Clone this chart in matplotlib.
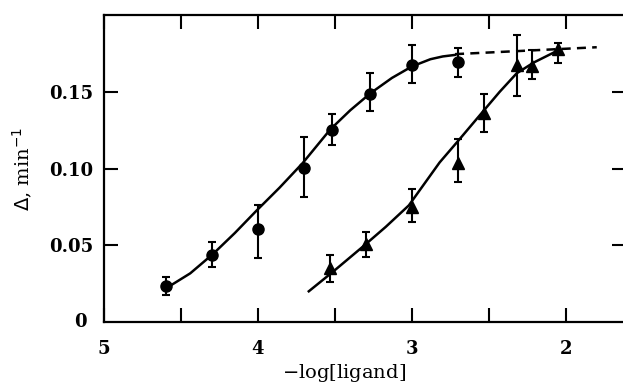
import numpy as np
import matplotlib.pyplot as plt
from matplotlib.ticker import MultipleLocator, FuncFormatter

# measured points (circles)
circ_x = [4.6, 4.3, 4.0, 3.7, 3.52, 3.27, 3.0, 2.7]
circ_y = [0.0235, 0.0437, 0.0606, 0.1004, 0.125, 0.1484, 0.1675, 0.1693]
circ_hi = [0.029, 0.052, 0.076, 0.1206, 0.1356, 0.1625, 0.1806, 0.1784]
circ_lo = [0.0176, 0.036, 0.042, 0.0815, 0.115, 0.1375, 0.1556, 0.1595]

# measured points (triangles)
tri_x = [3.53, 3.3, 3.0, 2.7, 2.53, 2.32, 2.22, 2.05]
tri_y = [0.035, 0.0506, 0.0752, 0.1034, 0.136, 0.1675, 0.1665, 0.1778]
tri_hi = [0.0437, 0.0589, 0.0865, 0.119, 0.1484, 0.187, 0.1773, 0.1815]
tri_lo = [0.0263, 0.0426, 0.0654, 0.0915, 0.1237, 0.147, 0.158, 0.1686]

# fitted curves
fit_circ_x = [4.58, 4.44, 4.29, 4.15, 4.01, 3.86, 3.71, 3.53, 3.40, 3.27, 3.13, 3.0, 2.88, 2.80, 2.72]
fit_circ_y = [0.023, 0.0317, 0.0445, 0.058, 0.0725, 0.0875, 0.1035, 0.1255, 0.138, 0.149, 0.159, 0.1665, 0.1712, 0.173, 0.174]
fit_tri_x = [3.67, 3.51, 3.32, 3.17, 3.02, 2.82, 2.70, 2.54, 2.43, 2.32, 2.21, 2.05]
fit_tri_y = [0.020, 0.033, 0.049, 0.062, 0.076, 0.104, 0.118, 0.137, 0.150, 0.162, 0.169, 0.177]
plateau_x = [2.72, 1.80]
plateau_y = [0.1745, 0.179]

plt.rcParams['font.family'] = ['DejaVu Serif']

fig = plt.figure(figsize=(6.23, 3.84), dpi=100)
ax = fig.add_axes([104 / 623, 1 - 322 / 384, (626 - 104) / 623, (322 - 15) / 384])

ax.errorbar(circ_x, circ_y,
            yerr=[np.subtract(circ_y, circ_lo), np.subtract(circ_hi, circ_y)],
            fmt='o', color='black', ms=8, elinewidth=1.5, capsize=3, capthick=1.5)
ax.errorbar(tri_x, tri_y,
            yerr=[np.subtract(tri_y, tri_lo), np.subtract(tri_hi, tri_y)],
            fmt='^', color='black', ms=8.5, elinewidth=1.5, capsize=3, capthick=1.5)

ax.plot(fit_circ_x, fit_circ_y, color='black', lw=1.8)
ax.plot(fit_tri_x, fit_tri_y, color='black', lw=1.8)
ax.plot(plateau_x, plateau_y, color='black', lw=1.8, linestyle=(0, (3.6, 2.5)))

ax.set_xlim(5, 1.61)
ax.set_ylim(0, 0.2)

ax.xaxis.set_major_locator(MultipleLocator(0.5))
ax.xaxis.set_major_formatter(FuncFormatter(lambda v, p: f"{v:.0f}" if abs(v - round(v)) < 1e-6 else ""))
ax.set_yticks([0.05, 0.10, 0.15])
ax.set_yticklabels(['0.05', '0.10', '0.15'])
ax.text(-0.033, 0, '0', transform=ax.get_yaxis_transform(), ha='right', va='center',
        fontsize=13, fontweight='bold')

ax.tick_params(direction='in', length=10, width=1.5, top=True, right=True,
               labelsize=13, pad=8)
ax.tick_params(axis='x', pad=13)
for lab in ax.get_xticklabels() + ax.get_yticklabels():
    lab.set_fontweight('bold')
for s in ax.spines.values():
    s.set_linewidth(1.6)

ax.set_xlabel(r"$-$log[ligand]", fontsize=14)
ax.xaxis.set_label_coords(0.46, -0.13)
ax.set_ylabel(r"$\Delta$, min$^{-1}$", fontsize=14)
ax.yaxis.set_label_coords(-0.133, 0.5)

fig.savefig("out.png", dpi=100)
